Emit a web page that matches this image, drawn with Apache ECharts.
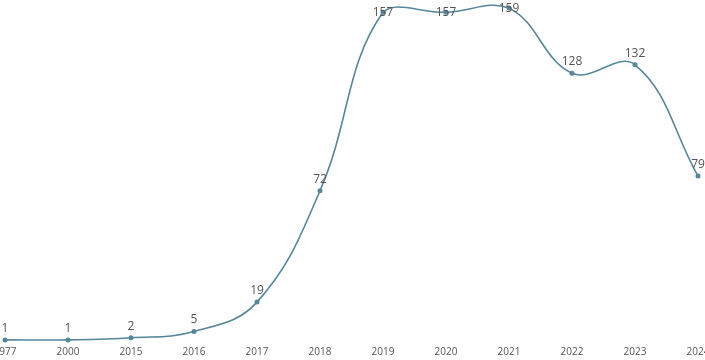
<!DOCTYPE html>
<html><head><meta charset="utf-8">
<script src="https://cdn.jsdelivr.net/npm/echarts@6/dist/echarts.min.js"></script>
<style>html,body{margin:0;padding:0;background:#fff}#c{width:705px;height:360px}</style>
</head><body><div id="c"></div>
<script>
const years = ['1977','2000','2015','2016','2017','2018','2019','2020','2021','2022','2023','2024'];
const counts = [1,1,2,5,19,72,157,157,159,128,132,79];
const topLabelYears = ['2019','2020','2021'];

const LINE_COLOR = '#55869a';
const TENSION = 0.4;
const chart = echarts.init(document.getElementById('c'));
const labelData = counts.map((v,i)=> topLabelYears.includes(years[i])
  ? {value:v, label:{position:'inside'}} : v);

function renderSegment(params, api){
  const i = params.dataIndex;
  const n = counts.length;
  if (i >= n-1) return null;
  const P = k => api.coord([Math.max(0,Math.min(n-1,k)), counts[Math.max(0,Math.min(n-1,k))]]);
  const W = api.getWidth(), H = api.getHeight();
  const cap = p => [Math.max(0,Math.min(W,p[0])), Math.max(0,Math.min(H,p[1]))];
  function cps(k){
    const prev = P(k-1), cur = P(k), next = P(k+1);
    const d01 = Math.hypot(cur[0]-prev[0], cur[1]-prev[1]);
    const d12 = Math.hypot(next[0]-cur[0], next[1]-cur[1]);
    let s01 = d01/(d01+d12), s12 = d12/(d01+d12);
    if (!isFinite(s01)) s01 = 0; if (!isFinite(s12)) s12 = 0;
    const fa = TENSION*s01, fb = TENSION*s12;
    return {
      prev: cap([cur[0]-fa*(next[0]-prev[0]), cur[1]-fa*(next[1]-prev[1])]),
      next: cap([cur[0]+fb*(next[0]-prev[0]), cur[1]+fb*(next[1]-prev[1])])
    };
  }
  const a = P(i), b = P(i+1);
  const c1 = cps(i).next, c2 = cps(i+1).prev;
  return {type:'bezierCurve',
    shape:{x1:a[0],y1:a[1],x2:b[0],y2:b[1],cpx1:c1[0],cpy1:c1[1],cpx2:c2[0],cpy2:c2[1]},
    style:{stroke:LINE_COLOR,lineWidth:1.6,fill:null}};
}

chart.setOption({
  animation:false,
  grid:{left:5,right:7,top:6,bottom:18,containLabel:false,outerBoundsMode:'none'},
  xAxis:{type:'category',data:years,boundaryGap:false,
    axisLine:{show:false},axisTick:{show:false},splitLine:{show:false},
    axisLabel:{color:'#555',fontSize:10,fontFamily:'Open Sans',margin:5,interval:0}},
  yAxis:{type:'value',min:0,max:160,show:false,splitLine:{show:false}},
  series:[
    {type:'custom',data:counts.map((v,i)=>[i,v]),encode:{x:0,y:1},clip:false,
     renderItem:renderSegment,z:2},
    {type:'line',data:labelData,symbol:'circle',symbolSize:5,z:3,
     lineStyle:{width:0,opacity:0},itemStyle:{color:LINE_COLOR},
     label:{show:true,position:'top',color:'#555',fontSize:12,fontFamily:'Open Sans',distance:3}}]
});
</script></body></html>
